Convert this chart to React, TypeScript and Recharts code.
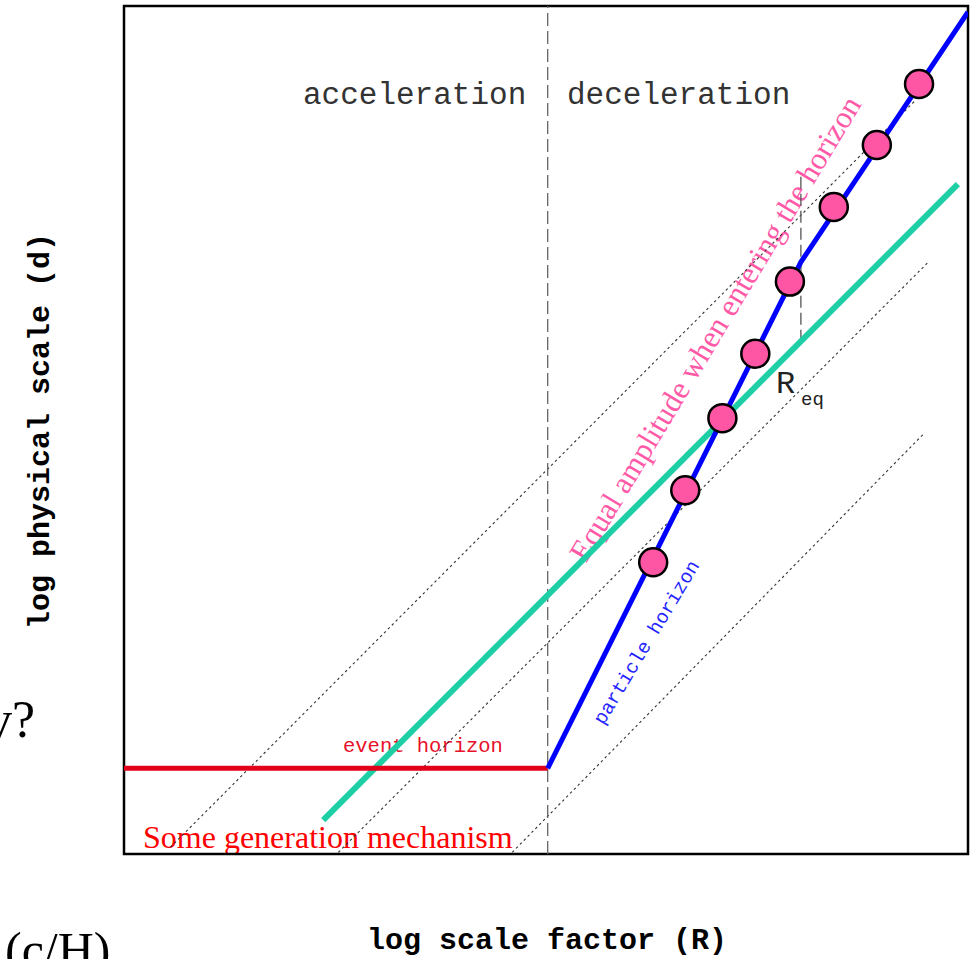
import { ComposedChart, Line, Scatter, XAxis, YAxis, ReferenceLine, ReferenceArea } from "recharts"

// schematic units: log scale factor (x) and log physical scale (y), both 0..10
const eventHorizon = [[0, 1.01], [5.02, 1.01]]
const particleHorizon = [[5.02, 1.01], [8.02, 6.98], [10, 9.93]]
const modeTrack = [[2.36, 0.4], [9.88, 7.9]]
const guideA = [[0.55, 0.08], [9.38, 8.89]]
const guideB = [[2.54, 0.02], [9.53, 6.98]]
const guideC = [[4.6, 0.02], [9.49, 4.97]]
const epochSplit = 5.02
const reqX = 8.02
const reqSpan = [6.04, 8.01]
const modeX = [6.27, 6.65, 7.09, 7.48, 7.89, 8.41, 8.92, 9.42]
const modeY = [3.44, 4.29, 5.14, 5.9, 6.75, 7.63, 8.36, 9.08]

const pts = (arr: number[][]) => arr.map(([x, y]) => ({ x, y }))
const modes = modeX.map((x, i) => ({ x, y: modeY[i] }))

const MONO = "'Liberation Mono', 'DejaVu Sans Mono', monospace"
const SERIF = "'Liberation Serif', 'Times New Roman', serif"

const ModeDot = (p: any) => (
  <circle cx={p.cx} cy={p.cy} r={14} fill="#FF55A5" stroke="#000" strokeWidth={2.5} />
)

export default function App() {
  const guide = { stroke: "#333", strokeWidth: 1.1, strokeDasharray: "2.5 3", dot: false, isAnimationActive: false, type: "linear" as const, dataKey: "y" }
  return (
    <div style={{ position: "absolute", left: 0, top: 0, width: 970, height: 959, background: "#fff" }}>
      <ComposedChart width={970} height={959} margin={{ top: 6, right: 2, bottom: 105, left: 124 }}>
        <XAxis type="number" dataKey="x" domain={[0, 10]} hide allowDataOverflow />
        <YAxis type="number" dataKey="y" domain={[0, 10]} hide width={0} allowDataOverflow />

        <Line data={pts(guideA)} {...guide} />
        <Line data={pts(guideB)} {...guide} />
        <Line data={pts(guideC)} {...guide} />

        <ReferenceLine x={epochSplit} stroke="#666" strokeWidth={1.3} strokeDasharray="13 5" />
        <ReferenceLine segment={[{ x: reqX, y: reqSpan[0] }, { x: reqX, y: reqSpan[1] }]} stroke="#555" strokeWidth={1.3} strokeDasharray="12 5" />

        <Line data={pts(modeTrack)} dataKey="y" stroke="#1ECFA6" strokeWidth={6} dot={false} isAnimationActive={false} type="linear" />
        <Line data={pts(eventHorizon)} dataKey="y" stroke="#E3001B" strokeWidth={5} dot={false} isAnimationActive={false} type="linear" />
        <Line data={pts(particleHorizon)} dataKey="y" stroke="#0000FF" strokeWidth={5} dot={false} isAnimationActive={false} type="linear" />

        <Scatter data={modes} dataKey="y" shape={ModeDot} isAnimationActive={false} />

        <ReferenceArea x1={0} x2={10} y1={0} y2={10} fill="none" fillOpacity={0} stroke="#000" strokeWidth={2.5} />

        <text x={303} y={104} fontFamily={MONO} fontSize={31} fill="#333">acceleration</text>
        <text x={567} y={104} fontFamily={MONO} fontSize={31} fill="#333">deceleration</text>
        <text x={343} y={752} fontFamily={MONO} fontSize={20.5} fill="#E8102A">event horizon</text>
        <text x={143} y={848} fontFamily={SERIF} fontSize={32} fill="#FF0000">Some generation mechanism</text>
        <text x={724} y={334} fontFamily={SERIF} fontSize={31} fill="#FF5AA8" textAnchor="middle" transform="rotate(-59 724 334)">
          Equal amplitude when entering the horizon
        </text>
        <text x={646} y={642} dy="0.35em" fontFamily={MONO} fontSize={19.5} fill="#2525FF" textAnchor="middle" transform="rotate(-59 646 642)">
          particle horizon
        </text>
        <text x={776} y={393} fontFamily={MONO} fontSize={32} fill="#222">R</text>
        <text x={801} y={405} fontFamily={MONO} fontSize={19} fill="#222">eq</text>

        <text x={49} y={431} fontFamily={MONO} fontWeight="bold" fontSize={30} fill="#000" textAnchor="middle" transform="rotate(-90 49 431)">
          log physical scale (d)
        </text>
        <text x={547} y={949} fontFamily={MONO} fontWeight="bold" fontSize={30} fill="#000" textAnchor="middle">
          log scale factor (R)
        </text>
        <text x={35} y={737} fontFamily={SERIF} fontSize={52} fill="#000" textAnchor="end">v?</text>
        <text x={5} y={967} fontFamily={SERIF} fontSize={50} fill="#000">(c/H)</text>
      </ComposedChart>
    </div>
  )
}
